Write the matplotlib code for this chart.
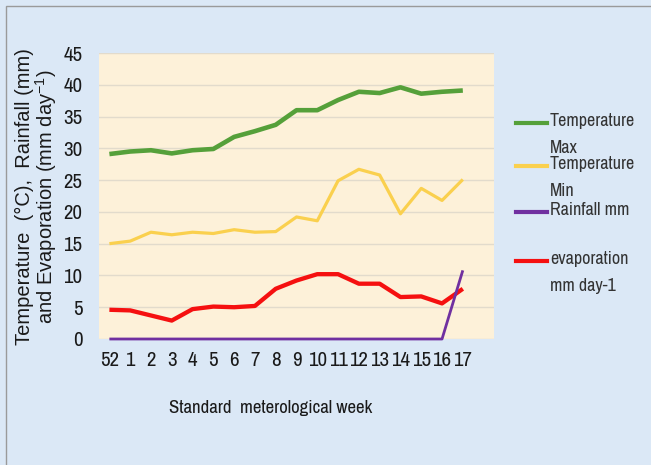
import matplotlib
matplotlib.use("Agg")
import matplotlib.pyplot as plt
from matplotlib.lines import Line2D
from matplotlib.patches import Rectangle
import logging
logging.getLogger('matplotlib.font_manager').setLevel(logging.ERROR)

plt.rcParams['mathtext.default'] = 'regular'

weeks = ["52", "1", "2", "3", "4", "5", "6", "7", "8", "9", "10", "11",
         "12", "13", "14", "15", "16", "17"]
temp_max = [29.1, 29.5, 29.7, 29.2, 29.7, 29.9, 31.8, 32.7, 33.7, 36.0, 36.0,
            37.6, 38.9, 38.7, 39.6, 38.6, 38.9, 39.1]
temp_min = [15.0, 15.4, 16.8, 16.4, 16.8, 16.6, 17.2, 16.8, 16.9, 19.2, 18.6,
            24.9, 26.7, 25.8, 19.7, 23.7, 21.8, 25.1]
rainfall = [0, 0, 0, 0, 0, 0, 0, 0, 0, 0, 0, 0, 0, 0, 0, 0, 0, 10.8]
evaporation = [4.6, 4.5, 3.7, 2.9, 4.7, 5.1, 5.0, 5.2, 7.9, 9.2, 10.2, 10.2,
               8.7, 8.7, 6.6, 6.7, 5.6, 7.9]
yticks = [0, 5, 10, 15, 20, 25, 30, 35, 40, 45]

labels = ["Temperature\nMax", "Temperature\nMin", "Rainfall mm",
          "evaporation\nmm day-1"]
colors = ["#55a03a", "#fad04e", "#7030a0", "#f51010"]
widths = [3.3, 2.3, 2.0, 3.1]

NARROW = ['Archivo Narrow', 'Roboto Condensed', 'DejaVu Sans']
REG = ['Liberation Sans', 'DejaVu Sans']

W, H = 651, 465
fig = plt.figure(figsize=(W / 100, H / 100), dpi=100)
fig.patch.set_facecolor("#dbe8f6")

def fx(px):
    return px / W

def fy(py):
    return 1 - py / H

# outer frame (top/left visible)
fig.add_artist(Rectangle((fx(6), fy(470)), fx(700), fy(6) - fy(470),
                         transform=fig.transFigure, fill=False,
                         edgecolor="#9a9a9a", linewidth=1.0, clip_on=False))

ax = fig.add_axes([fx(99), fy(339), fx(494) - fx(99), fy(53) - fy(339)])
ax.set_facecolor("#fdf1d9")
for s in ax.spines.values():
    s.set_visible(False)

x = list(range(len(weeks)))
series = [temp_max, temp_min, rainfall, evaporation]
order = [0, 1, 3, 2]
for i in order:
    ax.plot(x, series[i], color=colors[i], linewidth=widths[i],
            solid_joinstyle='round', solid_capstyle='butt', clip_on=False,
            zorder=3)

ax.set_xlim(-0.5, len(weeks) + 0.5)
ax.set_ylim(0, 45)
ax.set_yticks(yticks)
ax.set_xticks(x)
ax.set_xticklabels(weeks)
ax.yaxis.grid(True, color="#e2dbcc", linewidth=1.0)
ax.set_axisbelow(True)
ax.tick_params(axis='both', length=0, labelsize=15, colors="#1a1a1a")
ax.tick_params(axis='y', pad=12)
ax.tick_params(axis='x', pad=9)
for lab in ax.get_xticklabels() + ax.get_yticklabels():
    lab.set_family(NARROW)

fig.text(fx(271), fy(408), "Standard  meterological week", ha='center',
         va='center', fontsize=13.5, family=NARROW, color="#1a1a1a")

fig.text(fx(37), fy(197),
         "Temperature  (\u00b0C),  Rainfall (mm)\nand Evaporation (mm day$^{-1}$)",
         rotation=90, ha='center', va='center', multialignment='center',
         fontsize=14.5, family=REG, color="#1a1a1a", linespacing=0.95)

# legend
leg_y = [123, 166, 212, 261]
for i in range(4):
    fig.add_artist(Line2D([fx(516), fx(547)], [fy(leg_y[i])] * 2,
                          transform=fig.transFigure, color=colors[i],
                          linewidth=3.0))
    fig.text(fx(550), fy(leg_y[i] - 10), labels[i], ha='left', va='top',
             fontsize=13, family=NARROW, color="#333333", linespacing=1.85)

fig.savefig("out.png", dpi=100, facecolor=fig.get_facecolor())
